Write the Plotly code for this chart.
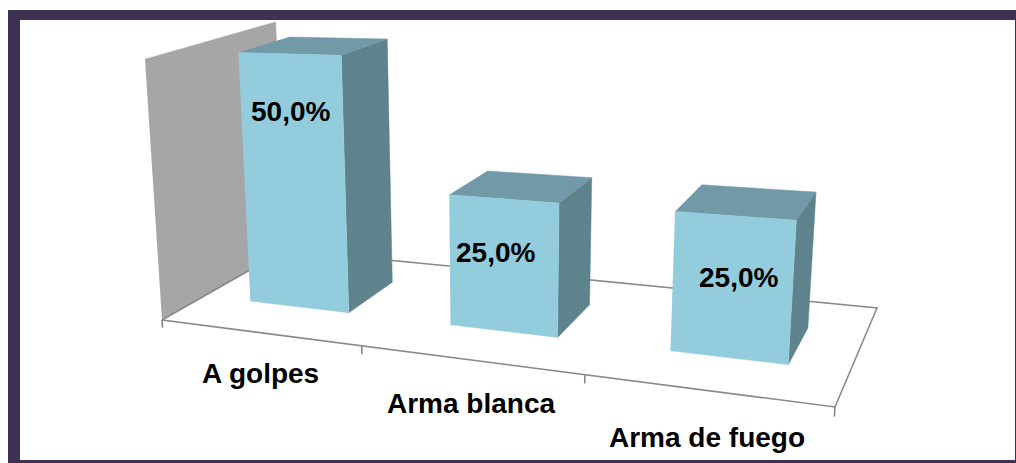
import numpy as np
import plotly.graph_objects as go

# ---- data ----
categories = ["A golpes", "Arma blanca", "Arma de fuego"]
values = [50.0, 25.0, 25.0]
value_labels = ["50,0%", "25,0%", "25,0%"]

# ---- style / layout ----
W, H_PX = 1016, 463
FRAME = "#3F3151"
FRONT, SIDE, TOP = "#93CDDD", "#5E838C", "#7199A8"
WALL, AXIS = "#A6A6A6", "#898989"
FONT = "Liberation Sans"
FONT_SIZE = 28
WALL_TOP = 51.0
BAR_LEFT = [0.26, 1.30, 2.29]
BAR_RIGHT = [0.79, 1.80, 2.765]
DEPTH_FRONT = 0.315
DEPTH_BACK = [0.72, 0.70, 0.70]
TICK_POS = [0, 1.04, 2.04, 3]
TICK_LEN = -1.6

# 3-D view: floor plane corners on the page, vertical vanishing point, value scale
floor_world = np.array([[0, 0], [3, 0], [3, 1], [0, 1]], float)
floor_page = np.array([[162, 320], [835, 407], [877, 308], [285, 250]], float)
vanish_z = np.array([500.0, 5500.0, 1.0])
value_scale = -0.00094
cat_label_xy = [(260, 373), (471, 403), (707, 437)]
val_label_xy = [(290, 111), (495, 252), (738, 277)]

rows = []
for (x, y), (u, v) in zip(floor_world, floor_page):
    rows.append([x, y, 1, 0, 0, 0, -u * x, -u * y, -u])
    rows.append([0, 0, 0, x, y, 1, -v * x, -v * y, -v])
hom = np.linalg.svd(np.array(rows))[2][-1].reshape(3, 3)
hom /= hom[2, 2]


def project(x, y, z):
    p = hom @ np.array([x, y, 1.0]) + z * value_scale * vanish_z
    return p[0] / p[2], p[1] / p[2]


def face(corners, color):
    xy = [project(*c) for c in corners]
    return go.Scatter(
        x=[p[0] for p in xy], y=[p[1] for p in xy], mode="lines", fill="toself",
        fillcolor=color, line=dict(color=color, width=0.5), hoverinfo="skip", showlegend=False,
    )


def line(corners, width=1.6):
    xy = [project(*c) for c in corners]
    return go.Scatter(
        x=[p[0] for p in xy], y=[p[1] for p in xy], mode="lines",
        line=dict(color=AXIS, width=width), hoverinfo="skip", showlegend=False,
    )


fig = go.Figure()

# back wall and floor outline
fig.add_trace(face([(0, 0, 0), (0, 1, 0), (0, 1, WALL_TOP), (0, 0, WALL_TOP)], WALL))
fig.add_trace(line([(0, 1, 0), (0, 0, 0), (3, 0, 0), (3, 1, 0), (0, 1, 0)]))
for t in TICK_POS:
    fig.add_trace(line([(t, 0, 0), (t, 0, TICK_LEN)]))

# bars
for i, val in enumerate(values):
    x0, x1 = BAR_LEFT[i], BAR_RIGHT[i]
    y0, y1 = DEPTH_FRONT, DEPTH_BACK[i]
    fig.add_trace(face([(x1, y0, 0), (x1, y1, 0), (x1, y1, val), (x1, y0, val)], SIDE))
    fig.add_trace(face([(x0, y0, val), (x1, y0, val), (x1, y1, val), (x0, y1, val)], TOP))
    fig.add_trace(face([(x0, y0, 0), (x1, y0, 0), (x1, y0, val), (x0, y0, val)], FRONT))

annotations = []
for txt, (x, y) in zip(categories + value_labels, cat_label_xy + val_label_xy):
    annotations.append(dict(
        text=txt, x=x, y=y, xref="x", yref="y", showarrow=False, xanchor="center", yanchor="middle",
        font=dict(family=FONT, size=FONT_SIZE, color="#000000", weight="bold"),
    ))

fig.update_layout(
    width=W, height=H_PX, margin=dict(l=0, r=0, t=0, b=0),
    paper_bgcolor="#FFFFFF", plot_bgcolor="rgba(0,0,0,0)", showlegend=False,
    xaxis=dict(range=[0, W], visible=False, fixedrange=True),
    yaxis=dict(range=[H_PX, 0], visible=False, fixedrange=True),
    annotations=annotations,
    shapes=[
        dict(type="rect", xref="x", yref="y", x0=8, y0=10, x1=1016, y1=463, layer="below",
             fillcolor=FRAME, line=dict(width=0)),
        dict(type="rect", xref="x", yref="y", x0=20, y0=20, x1=1015, y1=460, layer="below",
             fillcolor="#FFFFFF", line=dict(width=0)),
    ],
)
fig.write_html("out.html", config=dict(displayModeBar=False),
               post_script="document.body.style.margin='0';document.body.style.overflow='hidden';")
